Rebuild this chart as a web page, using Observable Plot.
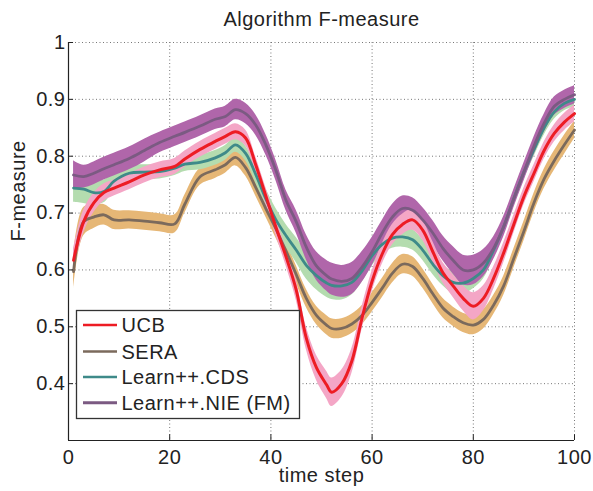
<!DOCTYPE html>
<html><head><meta charset="utf-8">
<script src="https://cdn.jsdelivr.net/npm/d3@7"></script>
<script src="https://cdn.jsdelivr.net/npm/@observablehq/plot@0.6"></script>
<style>
html,body{margin:0;padding:0;background:#fff;}
#chart svg{display:block;}
</style></head><body><div id="chart"></div>
<script>
const timeSteps = [1,3,5,7,9, 12,15,18,21, 23,26,29,31,33,35,37,39, 41,43,45,47,49, 51,52,54,56,58,60, 62,64,66,68,70, 72,74,76,78,80, 82,84,86,88,90, 92,94,96,98,100];

const ucb  = [0.617,0.685,0.718,0.736,0.744, 0.755,0.767,0.776,0.782, 0.795,0.812,0.826,0.835,0.843,0.832,0.785,0.730, 0.675,0.623,0.565,0.480,0.428, 0.398,0.385,0.400,0.440,0.515,0.580, 0.628,0.662,0.680,0.688,0.670, 0.632,0.595,0.572,0.550,0.536, 0.550,0.585,0.630,0.680,0.729, 0.770,0.810,0.840,0.860,0.875];
const sera = [0.597,0.685,0.693,0.697,0.688, 0.688,0.686,0.683,0.681, 0.716,0.764,0.776,0.785,0.798,0.780,0.745,0.708, 0.672,0.633,0.592,0.550,0.520, 0.503,0.497,0.497,0.505,0.520,0.543, 0.568,0.594,0.610,0.606,0.585, 0.558,0.533,0.518,0.507,0.503, 0.513,0.538,0.572,0.620,0.668, 0.718,0.760,0.792,0.820,0.846];
const cds  = [0.744,0.742,0.736,0.738,0.756, 0.770,0.772,0.773,0.779, 0.786,0.789,0.797,0.806,0.820,0.805,0.768,0.725, 0.688,0.660,0.635,0.608,0.590, 0.577,0.573,0.572,0.578,0.598,0.625, 0.645,0.656,0.658,0.653,0.635, 0.610,0.590,0.578,0.577,0.585, 0.600,0.635,0.676,0.725,0.772, 0.812,0.850,0.878,0.893,0.900];
const nie  = [0.767,0.764,0.770,0.778,0.785, 0.796,0.810,0.824,0.835, 0.842,0.853,0.865,0.870,0.882,0.875,0.855,0.820, 0.775,0.722,0.685,0.640,0.607, 0.590,0.584,0.580,0.585,0.605,0.632, 0.665,0.693,0.708,0.705,0.688, 0.665,0.638,0.617,0.600,0.600, 0.612,0.638,0.676,0.725,0.772, 0.818,0.858,0.888,0.900,0.908];

const ucbSpread  = [0.02,0.02,0.017,0.015,0.014, 0.014,0.014,0.014,0.014, 0.014,0.014,0.014,0.014,0.014,0.014,0.014,0.015, 0.015,0.016,0.018,0.02,0.022, 0.024,0.025,0.024,0.022,0.02,0.018, 0.018,0.018,0.018,0.018,0.018, 0.018,0.018,0.02,0.022,0.024, 0.022,0.02,0.018,0.016,0.015, 0.015,0.015,0.015,0.015,0.015];
const seraSpread = [0.03,0.025,0.02,0.018,0.017, 0.016,0.016,0.016,0.016, 0.016,0.015,0.015,0.015,0.015,0.015,0.015,0.015, 0.016,0.016,0.016,0.016,0.016, 0.017,0.017,0.017,0.017,0.017,0.017, 0.017,0.017,0.017,0.017,0.017, 0.017,0.017,0.017,0.017,0.017, 0.017,0.017,0.017,0.017,0.017, 0.017,0.017,0.017,0.017,0.015];
const cdsSpread  = [0.025,0.025,0.022,0.02,0.018, 0.014,0.013,0.013,0.013, 0.013,0.013,0.013,0.013,0.013,0.013,0.015,0.018, 0.02,0.02,0.022,0.024,0.025, 0.025,0.025,0.025,0.022,0.02,0.018, 0.018,0.018,0.018,0.018,0.018, 0.018,0.018,0.02,0.02,0.018, 0.016,0.015,0.014,0.013,0.013, 0.013,0.013,0.013,0.013,0.013];
const nieSpread  = [0.025,0.02,0.02,0.02,0.02, 0.02,0.02,0.018,0.018, 0.018,0.018,0.018,0.018,0.018,0.018,0.018,0.018, 0.018,0.018,0.02,0.022,0.025, 0.027,0.028,0.028,0.028,0.027,0.025, 0.022,0.022,0.022,0.022,0.022, 0.022,0.022,0.024,0.026,0.026, 0.024,0.02,0.018,0.016,0.016, 0.016,0.016,0.016,0.016,0.016];

const seriesNames = ["UCB", "SERA", "Learn++.CDS", "Learn++.NIE (FM)"];
const xTicks = [0, 20, 40, 60, 80, 100];
const yTicks = [0.4, 0.5, 0.6, 0.7, 0.8, 0.9, 1];

const lineColors = {"UCB": "#ed1c24", "SERA": "#7b6a5c", "Learn++.CDS": "#3e8a89", "Learn++.NIE (FM)": "#7b5a82"};
const bandColors = {"UCB": "#f4a6c6", "SERA": "#e6b776", "Learn++.CDS": "#b4dcaf", "Learn++.NIE (FM)": "#b066aa"};
const lineWidths = {"UCB": 3, "SERA": 2.8, "Learn++.CDS": 2.8, "Learn++.NIE (FM)": 2.8};

function rows(name, vals, sd) {
  return timeSteps.map((t, i) => ({t, name, v: vals[i], lo: vals[i] - sd[i], hi: vals[i] + sd[i]}));
}
const table = {
  "UCB": rows("UCB", ucb, ucbSpread),
  "SERA": rows("SERA", sera, seraSpread),
  "Learn++.CDS": rows("Learn++.CDS", cds, cdsSpread),
  "Learn++.NIE (FM)": rows("Learn++.NIE (FM)", nie, nieSpread)
};
const drawOrder = ["SERA", "Learn++.CDS", "Learn++.NIE (FM)", "UCB"];
const font = "'Liberation Sans', Arial, Helvetica, sans-serif";
const curve = "catmull-rom";

const plot = Plot.plot({
  width: 593, height: 491,
  marginLeft: 68, marginRight: 19, marginTop: 42, marginBottom: 51,
  style: {fontFamily: font, fontSize: "20px", color: "#222", background: "#fff", letterSpacing: "0.5px", overflow: "visible"},
  x: {domain: [0, 100], ticks: xTicks, tickSize: 0, tickPadding: 9, label: null},
  y: {domain: [0.3, 1], ticks: yTicks, tickSize: 0, tickPadding: 3, label: null, tickFormat: d => d === 1 ? "1" : d.toFixed(1)},
  marks: [
    Plot.ruleX(xTicks.slice(1), {stroke: "#777", strokeWidth: 1, strokeDasharray: "1,2.5"}),
    Plot.ruleY(yTicks, {stroke: "#777", strokeWidth: 1, strokeDasharray: "1,2.5"}),
    ...drawOrder.map(n => Plot.areaY(table[n], {x: "t", y1: "lo", y2: "hi", fill: bandColors[n], curve})),
    ...drawOrder.map(n => Plot.line(table[n], {x: "t", y: "v", stroke: lineColors[n], strokeWidth: lineWidths[n], curve})),
    Plot.ruleX([0], {stroke: "#222", strokeWidth: 1.2}),
    Plot.ruleY([0.3], {stroke: "#222", strokeWidth: 1.2}),
    Plot.ruleY(yTicks, {x1: 0, x2: 1, stroke: "#222"}),
    Plot.ruleX(xTicks, {y1: 0.3, y2: 0.31, stroke: "#222"}),
    Plot.text(["Algorithm F-measure"], {text: d => d, frameAnchor: "top", dy: -23, lineAnchor: "middle", fill: "#222"}),
    Plot.text(["F-measure"], {text: d => d, frameAnchor: "left", dx: -50, rotate: -90, lineAnchor: "middle", fill: "#222"}),
    Plot.text(["time step"], {text: d => d, frameAnchor: "bottom", dy: 35, lineAnchor: "middle", fill: "#222"})
  ]
});
document.getElementById("chart").appendChild(plot);

// legend
const svg = d3.select(plot);
const lg = svg.append("g").attr("font-family", font).attr("font-size", 20).attr("letter-spacing", "0.5px").attr("text-anchor", "start");
lg.append("rect").attr("x", 76.5).attr("y", 310.5).attr("width", 223).attr("height", 108)
  .attr("fill", "#fff").attr("stroke", "#333").attr("stroke-width", 1.3);
const rowY = [325, 351.5, 377, 402.7];
seriesNames.forEach((n, i) => {
  lg.append("line").attr("x1", 83).attr("x2", 117).attr("y1", rowY[i]).attr("y2", rowY[i])
    .attr("stroke", lineColors[n]).attr("stroke-width", n === "Learn++.NIE (FM)" ? 3 : 2.4);
  lg.append("text").attr("x", 121.5).attr("y", rowY[i]).attr("dy", "0.35em").attr("text-anchor", "start").attr("fill", "#222").text(n);
});
</script></body></html>
